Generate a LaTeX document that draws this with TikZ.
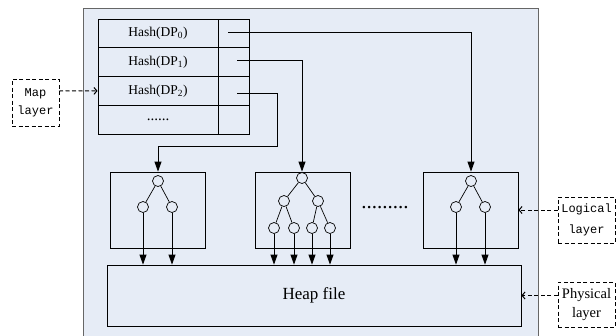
\documentclass[tikz,border=0pt]{standalone}
\usepackage{fontspec}
\setmainfont{Liberation Serif}
\newfontfamily\monof{Liberation Mono}
\usetikzlibrary{arrows.meta}
\definecolor{bgblue}{RGB}{230,236,246}
\begin{document}
\begin{tikzpicture}[x=1pt,y=-1pt,
  cell/.style={draw, line width=0.9pt, minimum height=28.75pt, inner sep=0, font=\fontsize{13.5}{14}\selectfont},
  tbox/.style={draw, line width=0.8pt, minimum width=95pt, minimum height=76pt, inner sep=0},
  nd/.style={draw, circle, minimum size=11pt, inner sep=0, line width=0.7pt, fill=bgblue},
  edge/.style={line width=0.7pt},
  arr/.style={-{Triangle[length=10pt,width=7pt]}, line width=0.8pt},
  dbox/.style={draw, dash pattern=on 4pt off 2.5pt, line width=1pt, inner sep=0, align=center},
  darr/.style={dash pattern=on 4pt off 2.5pt, line width=1pt, -{Straight Barb[length=3pt,width=7pt]}},
  ]
\useasboundingbox (0,0) rectangle (616,335);
% outer frame
\path[draw=black!60, line width=0.9pt, fill=bgblue] (83,8) rectangle (538,340);

% hash table
\node[cell, minimum width=120pt] (h0) at (158,33.4) {Hash(DP\textsubscript{0})};
\node[cell, minimum width=120pt] (h1) at (158,62.1) {Hash(DP\textsubscript{1})};
\node[cell, minimum width=120pt] (h2) at (158,90.9) {Hash(DP\textsubscript{2})};
\node[cell, minimum width=120pt] (h3) at (158,119.6) {\fontsize{15}{15}\selectfont ......};
\node[cell, minimum width=31pt] (p0) at (233.5,33.4) {};
\node[cell, minimum width=31pt] (p1) at (233.5,62.1) {};
\node[cell, minimum width=31pt] (p2) at (233.5,90.9) {};
\node[cell, minimum width=31pt] (p3) at (233.5,119.6) {};
\coordinate (s0) at (228,32);
\coordinate (s1) at (237,60);
\coordinate (s2) at (237,93);
\coordinate (b2) at (277,146);

% tree boxes
\node[tbox] (t1) at (158,210) {};
\node[tbox] (t2) at (303,210) {};
\node[tbox] (t3) at (470.5,210) {};

% heap
\node[draw, line width=0.8pt, minimum width=414pt, minimum height=61pt, inner sep=0,
      font=\fontsize{17}{18}\selectfont] (heap) at (314,295.5) {Heap file};

% tree 1
\node[nd] (r1) at (158,181) {};
\node[nd] (a1) at (143,207) {};
\node[nd] (a2) at (172,207) {};
\draw[edge] (r1) -- (a1); \draw[edge] (r1) -- (a2);
% tree 2
\node[nd] (r2) at (302,178) {};
\node[nd] (c1) at (284,201) {};
\node[nd] (c2) at (318,201) {};
\node[nd] (g1) at (274,228) {};
\node[nd] (g2) at (294,228) {};
\node[nd] (g3) at (312,228) {};
\node[nd] (g4) at (330,228) {};
\draw[edge] (r2) -- (c1); \draw[edge] (r2) -- (c2);
\draw[edge] (c1) -- (g1); \draw[edge] (c1) -- (g2);
\draw[edge] (c2) -- (g3); \draw[edge] (c2) -- (g4);
% tree 3
\node[nd] (r3) at (471,181) {};
\node[nd] (e1) at (456,207) {};
\node[nd] (e2) at (485,207) {};
\draw[edge] (r3) -- (e1); \draw[edge] (r3) -- (e2);

\node[font=\fontsize{21}{21}\selectfont, inner sep=0] (dots) at (385,208) {.........};

% pointers
\draw[arr] (s0) -| (r3.north |- t3.north);
\draw[arr] (s1) -| (r2.north |- t2.north);
\draw[arr] (s2) -| (b2) -| (r1.north |- t1.north);

% to heap
\foreach \n in {a1,a2,g1,g2,g3,g4,e1,e2}
  \draw[arr] (\n) -- (\n |- heap.north);

% layer labels
\node[dbox, minimum width=47pt, minimum height=47pt, font=\monof\fontsize{12}{18}\selectfont] (map) at (35.5,102.5) {Map\\layer};
\node[dbox, minimum width=57pt, minimum height=46pt, font=\monof\fontsize{12}{21}\selectfont] (logi) at (586.5,220) {Logical\\layer};
\node[dbox, minimum width=57pt, minimum height=45pt, font=\fontsize{14.5}{19}\selectfont] (phys) at (586.5,304.5) {Physical\\layer};

\coordinate (mapout) at (59,91);
\draw[darr] (mapout) -- (h2.west);
\draw[darr] (logi.west |- t3.east) -- (t3.east);
\draw[darr] (phys.west |- heap.east) -- (heap.east);
\end{tikzpicture}
\end{document}
